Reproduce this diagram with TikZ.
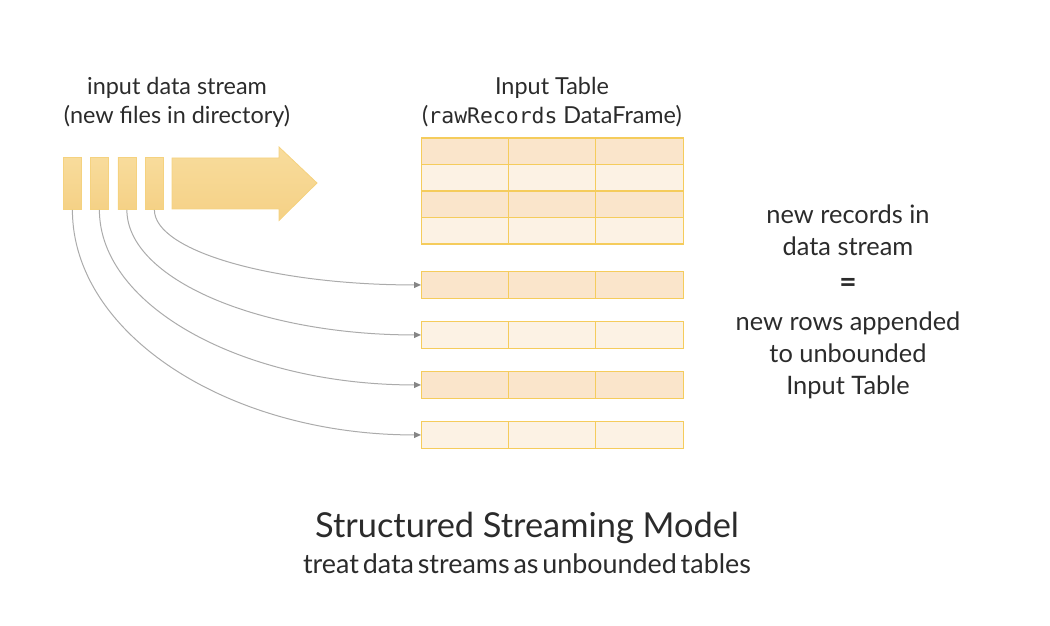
\documentclass[tikz,border=0pt]{standalone}
\usepackage{fontspec}
\setmainfont{Lato}
\newfontfamily\codefont{DejaVu Sans Mono}
\usetikzlibrary{arrows.meta,calc}
\definecolor{ink}{HTML}{2B2B2B}
\definecolor{filetop}{HTML}{F8DC9C}
\definecolor{filebot}{HTML}{F5D186}
\definecolor{fileedge}{HTML}{F5D27F}
\definecolor{gold}{HTML}{F5CC5C}
\definecolor{rowdark}{HTML}{FAE5CB}
\definecolor{rowlight}{HTML}{FCF2E4}
\definecolor{wire}{HTML}{ABABAB}
\definecolor{wiretip}{HTML}{858585}
\tikzset{
  filebox/.style={draw=fileedge, line width=0.8bp, top color=filetop, bottom color=filebot,
    minimum width=18bp, minimum height=52bp, inner sep=0pt, anchor=north west},
  rowbox/.style={draw=gold, line width=1.4bp, minimum width=262bp, minimum height=26.5bp,
    inner sep=0pt, anchor=north west},
  dark/.style={rowbox, fill=rowdark},
  light/.style={rowbox, fill=rowlight},
  label/.style={text=ink, font=\fontsize{23.5}{29}\selectfont, align=center},
  sidetext/.style={text=ink, font=\fontsize{25.5}{32}\selectfont, align=center},
  wireline/.style={draw=wire, line width=1bp,
    -{Triangle[length=7bp,width=6bp,color=wiretip]}},
}
% quarter-ellipse connector from a file's bottom to a row's left side
\newcommand\feedwire[2]{%
  \draw[wireline] (#1.south)
    .. controls ($(#1.south)!0.552!(#1.south |- #2.west)$)
            and ($(#2.west)!0.552!(#1.south |- #2.west)$) .. (#2.west);}
\begin{document}
\begin{tikzpicture}[x=1bp, y=-1bp]
\useasboundingbox (0,0) rectangle (1050,626);

% incoming files
\node[filebox] (f1) at (63,157) {};
\node[filebox] (f2) at (90,157) {};
\node[filebox] (f3) at (117.5,157) {};
\node[filebox] (f4) at (145,157) {};

% stream direction arrow
\path[draw=fileedge, line width=0.8bp, top color=filetop, bottom color=filebot]
  (172,158) -- (279,158) -- (279,147) -- (317,183) -- (279,220.5) -- (279,209) -- (172,209) -- cycle;

% input table
\node[dark]  (t1) at (421,137.5) {};
\node[light] (t2) at (421,164) {};
\node[dark]  (t3) at (421,190.5) {};
\node[light] (t4) at (421,217) {};
\draw[gold, line width=1.4bp] (508.5,137.5) -- (508.5,243.5) (595.5,137.5) -- (595.5,243.5);

% appended rows
\node[dark]  (r1) at (421,271) {};
\node[light] (r2) at (421,321) {};
\node[dark]  (r3) at (421,371) {};
\node[light] (r4) at (421,421) {};
\foreach \r in {r1,r2,r3,r4}{
  \draw[gold, line width=1.4bp] ([xshift=87.5bp]\r.north west) -- ([xshift=87.5bp]\r.south west)
                                 ([xshift=174.5bp]\r.north west) -- ([xshift=174.5bp]\r.south west);
}

% file -> row connectors
\feedwire{f4}{r1}
\feedwire{f3}{r2}
\feedwire{f2}{r3}
\feedwire{f1}{r4}

% captions
\node[label] (cap1) at (177,102) {input data stream\\(new files in directory)};
\node[label] (cap2) at (552,102) {Input Table\\({\codefont\fontsize{21.5}{29}\selectfont rawRecords} DataFrame)};

\node[sidetext] (eq) at (848,230) {new records in\\data stream};
\node[text=ink, font=\bfseries\fontsize{30}{32}\selectfont] (eqs) at (848,285) {=};
\node[sidetext] (eq2) at (848,355) {new rows appended\\to unbounded\\Input Table};

\node[text=ink, font=\fontsize{34.5}{38}\selectfont] (title) at (527,528) {Structured Streaming Model};
\node[text=ink, font=\fontsize{27}{30}\selectfont] (sub) at (527,564)
  {\spaceskip=0.14em plus 0.05em treat data streams as unbounded tables};
\end{tikzpicture}
\end{document}
